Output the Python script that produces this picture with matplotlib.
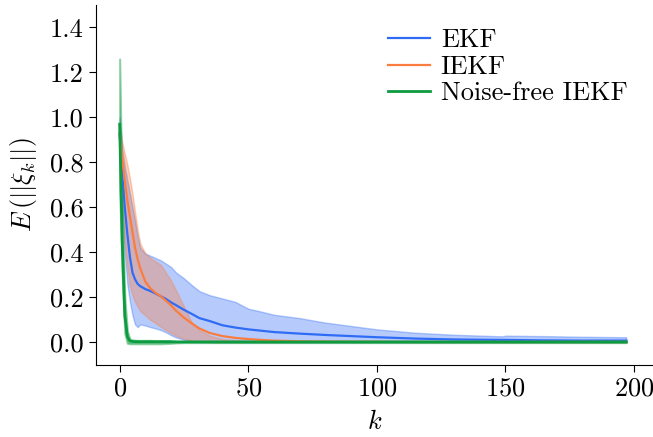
import numpy as np
import matplotlib
matplotlib.use("Agg")
import matplotlib.pyplot as plt

plt.rcParams["font.family"] = "serif"
plt.rcParams["font.serif"] = ["cmr10", "DejaVu Serif"]
plt.rcParams["mathtext.fontset"] = "cm"
plt.rcParams["axes.formatter.use_mathtext"] = True
plt.rcParams["font.size"] = 19

# time steps
k = [0, 1, 2, 3, 4, 5, 6, 7, 8, 10, 12, 14, 16, 18, 20, 22, 25, 28, 31, 35,
     40, 45, 50, 55, 60, 70, 80, 90, 100, 115, 130, 149, 150, 165, 180, 197]

# EKF
ekf_mean = [0.93, 0.75, 0.60, 0.48, 0.38, 0.31, 0.28, 0.26, 0.25, 0.237, 0.228, 0.217, 0.205, 0.193,
            0.178, 0.165, 0.145, 0.127, 0.108, 0.095, 0.076, 0.066, 0.058, 0.052, 0.046, 0.039,
            0.033, 0.028, 0.023, 0.017, 0.013, 0.011, 0.011, 0.009, 0.008, 0.008]
ekf_upper = [1.00, 0.86, 0.78, 0.72, 0.66, 0.60, 0.54, 0.47, 0.42, 0.395, 0.385, 0.375, 0.365, 0.35,
             0.335, 0.31, 0.285, 0.255, 0.228, 0.21, 0.195, 0.18, 0.15, 0.137, 0.123, 0.108,
             0.088, 0.073, 0.058, 0.043, 0.034, 0.027, 0.030, 0.028, 0.025, 0.023]
ekf_lower = [0.85, 0.60, 0.40, 0.26, 0.18, 0.12, 0.08, 0.068, 0.08, 0.075, 0.068, 0.062, 0.055, 0.045,
             0.032, 0.022, 0.012, 0.006, 0.003, 0.002, 0.001, 0.001, 0.001, 0.001, 0.001, 0.001,
             0.001, 0.001, 0.001, 0.001, 0.001, 0.001, 0.001, 0.001, 0.001, 0.001]

# IEKF
iekf_mean = [0.92, 0.82, 0.72, 0.63, 0.56, 0.49, 0.42, 0.37, 0.33, 0.27, 0.24, 0.22, 0.205, 0.185,
             0.165, 0.14, 0.11, 0.085, 0.062, 0.042, 0.028, 0.020, 0.015, 0.011, 0.008, 0.005,
             0.004, 0.003, 0.003, 0.002, 0.002, 0.002, 0.002, 0.002, 0.002, 0.002]
iekf_upper = [0.97, 0.89, 0.84, 0.79, 0.73, 0.66, 0.58, 0.50, 0.44, 0.395, 0.375, 0.36, 0.345, 0.31,
              0.275, 0.23, 0.16, 0.09, 0.055, 0.03, 0.015, 0.01, 0.007, 0.005, 0.004, 0.004,
              0.004, 0.004, 0.004, 0.004, 0.004, 0.004, 0.004, 0.004, 0.004, 0.004]
iekf_lower = [0.85, 0.65, 0.45, 0.33, 0.25, 0.21, 0.18, 0.16, 0.14, 0.12, 0.10, 0.085, 0.07, 0.055,
              0.042, 0.03, 0.017, 0.008, 0.003, 0.001, 0.001, 0.001, 0.001, 0.001, 0.001, 0.001,
              0.001, 0.001, 0.001, 0.001, 0.001, 0.001, 0.001, 0.001, 0.001, 0.001]

# Noise-free IEKF
nf_mean = [0.97, 0.45, 0.12, 0.025, 0.006, 0.004, 0.003, 0.003, 0.003, 0.003, 0.003, 0.003, 0.003,
           0.003, 0.003, 0.002, 0.002, 0.002, 0.002, 0.002, 0.002, 0.002, 0.002, 0.002, 0.002,
           0.002, 0.002, 0.002, 0.002, 0.002, 0.002, 0.002, 0.002, 0.002, 0.002, 0.002]
nf_upper = [1.26, 0.60, 0.20, 0.05, 0.015, 0.011, 0.010, 0.009, 0.009, 0.009, 0.009, 0.008, 0.008,
            0.008, 0.007, 0.005, 0.005, 0.005, 0.005, 0.005, 0.005, 0.005, 0.005, 0.005, 0.005,
            0.005, 0.005, 0.005, 0.005, 0.005, 0.005, 0.005, 0.005, 0.005, 0.005, 0.005]
nf_lower = [0.68, 0.30, 0.04, -0.004, -0.006, -0.006, -0.006, -0.006, -0.006, -0.006, -0.006,
            -0.006, -0.006, -0.005, -0.004, -0.002, -0.001, -0.001, -0.001, -0.001, -0.001,
            -0.001, -0.001, -0.001, -0.001, -0.001, -0.001, -0.001, -0.001, -0.001, -0.001,
            -0.001, -0.001, -0.001, -0.001, -0.001]

c_ekf = "#2f6cf6"
c_iekf = "#fb7c3f"
c_nf = "#0d9b40"

fig = plt.figure(figsize=(6.53, 4.37), dpi=100)
ax = fig.add_axes([0.1466, 0.165, 0.8534, 0.8236])

ax.fill_between(k, ekf_lower, ekf_upper, color=c_ekf, alpha=0.35, linewidth=1)
ax.fill_between(k, iekf_lower, iekf_upper, color=c_iekf, alpha=0.35, linewidth=1)
ax.fill_between(k, nf_lower, nf_upper, color=c_nf, alpha=0.45, linewidth=1.5)
ax.plot(k, ekf_mean, color=c_ekf, lw=1.6, label="EKF")
ax.plot(k, iekf_mean, color=c_iekf, lw=1.6, label="IEKF")
ax.plot(k, nf_mean, color=c_nf, lw=2.0, label="Noise-free IEKF")

ax.set_xlim(-9.3, 207.4)
ax.set_ylim(-0.1, 1.5)
ax.set_xticks([0, 50, 100, 150, 200])
ax.set_yticks([0.0, 0.2, 0.4, 0.6, 0.8, 1.0, 1.2, 1.4])
ax.yaxis.set_major_formatter(matplotlib.ticker.FormatStrFormatter("%.1f"))
ax.spines["top"].set_visible(False)
ax.spines["right"].set_visible(False)
ax.tick_params(direction="out", length=5)
ax.set_xlabel(r"$k$", labelpad=7)
ax.set_ylabel(r"$E\,\left(||\xi_k||\right)$", labelpad=8)
ax.legend(loc="upper right", frameon=False, bbox_to_anchor=(0.997, 1.0),
          handlelength=1.6, handletextpad=0.4, labelspacing=0.1)

fig.savefig("out.png", dpi=100)
